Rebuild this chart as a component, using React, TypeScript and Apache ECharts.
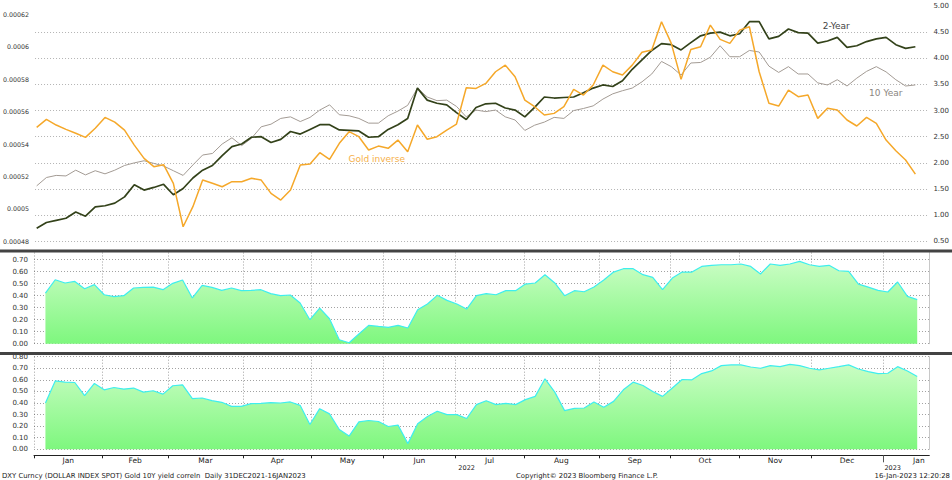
import React, { useEffect, useRef } from "react";
import * as echarts from "echarts";

// Business-day index: 0 = 31 Dec 2021, 1 = 3 Jan 2022, ... ; samples every 3rd business day from index 1
const SAMPLE_START = 1;
const SAMPLE_STEP = 3;

const monthNames = ["Jan", "Feb", "Mar", "Apr", "May", "Jun", "Jul", "Aug", "Sep", "Oct", "Nov", "Dec", "Jan"];
const monthFirstDay = [1, 22, 42, 65, 86, 108, 130, 151, 174, 196, 217, 239, 261];
const monthLastDay = [21, 41, 64, 85, 107, 129, 150, 173, 195, 216, 238, 260, 282];
const yearNames = ["2022", "2023"];

const goldInverse = [
  0.0005504, 0.0005553, 0.0005518, 0.0005491, 0.0005467, 0.0005442, 0.0005498, 0.0005565, 0.0005536, 0.0005487,
  0.0005394, 0.0005312, 0.0005261, 0.0005273, 0.0005158, 0.000489, 0.0005014, 0.0005178, 0.0005158, 0.0005137,
  0.0005168, 0.0005168, 0.0005189, 0.0005178, 0.0005096, 0.0005055, 0.0005117, 0.0005271, 0.0005277, 0.0005347,
  0.0005306, 0.0005405, 0.0005477, 0.0005446, 0.0005364, 0.0005388, 0.0005374, 0.0005425, 0.0005353, 0.0005518,
  0.000543, 0.0005446, 0.0005487, 0.0005524, 0.0005748, 0.0005744, 0.0005775, 0.0005847, 0.0005888, 0.0005816,
  0.0005672, 0.0005631, 0.000558, 0.000559, 0.0005631, 0.0005738, 0.0005703, 0.0005765, 0.0005888, 0.0005847,
  0.0005827, 0.0005888, 0.0005967, 0.0005981, 0.0006156, 0.0006022, 0.00058, 0.0005985, 0.0006001, 0.0006135,
  0.0006047, 0.0006022, 0.0006104, 0.0006125, 0.0005847, 0.0005652, 0.0005635, 0.0005734, 0.0005693, 0.0005703,
  0.0005559, 0.0005621, 0.0005611, 0.0005549, 0.0005512, 0.0005565, 0.0005528, 0.0005425, 0.0005359, 0.0005302,
  0.0005215,
];

const twoYear = [
  0.75, 0.86, 0.9, 0.94, 1.06, 0.98, 1.16, 1.18, 1.23, 1.35,
  1.58, 1.48, 1.53, 1.59, 1.39, 1.51, 1.71, 1.86, 1.95, 2.14,
  2.31, 2.36, 2.49, 2.5, 2.39, 2.45, 2.6, 2.55, 2.64, 2.73,
  2.73, 2.63, 2.62, 2.61, 2.49, 2.5, 2.64, 2.73, 2.85, 3.43,
  3.2, 3.14, 3.11, 2.96, 2.83, 3.06, 3.13, 3.14, 3.05, 3.01,
  2.88, 3.06, 3.26, 3.24, 3.25, 3.26, 3.34, 3.43, 3.49, 3.46,
  3.57, 3.79, 3.97, 4.15, 4.28, 4.26, 4.16, 4.3, 4.43, 4.48,
  4.5, 4.43, 4.47, 4.7, 4.7, 4.37, 4.42, 4.56, 4.49, 4.48,
  4.29, 4.33, 4.4, 4.21, 4.24, 4.32, 4.37, 4.4, 4.26, 4.19,
  4.22,
];

const tenYear = [
  1.56, 1.72, 1.76, 1.75, 1.86, 1.77, 1.85, 1.79, 1.86, 1.95,
  2.0, 2.04, 1.99, 1.94, 1.85, 1.76, 1.96, 2.15, 2.18, 2.36,
  2.48, 2.33, 2.47, 2.69, 2.74, 2.85, 2.88, 2.79, 2.87, 3.01,
  3.11, 2.92, 2.9, 2.85, 2.76, 2.76, 2.9, 2.99, 3.1, 3.43,
  3.26, 3.19, 3.2, 3.08, 2.88, 3.01, 2.98, 3.01, 2.88, 2.82,
  2.62, 2.72, 2.78, 2.87, 2.85, 3.0, 3.04, 3.09, 3.22, 3.32,
  3.38, 3.43, 3.55, 3.7, 3.94, 3.84, 3.68, 3.91, 3.92, 4.02,
  4.24, 4.03, 4.03, 4.15, 4.12, 3.85, 3.73, 3.84, 3.7, 3.7,
  3.53, 3.49, 3.59, 3.47, 3.62, 3.75, 3.84, 3.74, 3.59, 3.47,
  3.49,
];

const correlationA = [
  null, 0.422, 0.533, 0.506, 0.519, 0.458, 0.492, 0.408, 0.392, 0.4,
  0.464, 0.469, 0.472, 0.45, 0.503, 0.531, 0.381, 0.486, 0.469, 0.444,
  0.464, 0.442, 0.444, 0.45, 0.417, 0.4, 0.406, 0.339, 0.2, 0.297,
  0.208, 0.033, 0.008, 0.081, 0.153, 0.144, 0.136, 0.153, 0.131, 0.283,
  0.331, 0.403, 0.361, 0.331, 0.289, 0.4, 0.417, 0.408, 0.442, 0.442,
  0.497, 0.506, 0.575, 0.506, 0.4, 0.442, 0.433, 0.472, 0.531, 0.597,
  0.625, 0.625, 0.575, 0.553, 0.45, 0.547, 0.597, 0.597, 0.644, 0.653,
  0.658, 0.658, 0.664, 0.644, 0.581, 0.664, 0.653, 0.664, 0.686, 0.658,
  0.644, 0.653, 0.608, 0.603, 0.497, 0.472, 0.444, 0.431, 0.514, 0.394,
  0.367,
];

const correlationB = [
  null, 0.4, 0.591, 0.58, 0.577, 0.463, 0.569, 0.514, 0.534, 0.52,
  0.529, 0.494, 0.506, 0.477, 0.549, 0.557, 0.437, 0.443, 0.42, 0.406,
  0.371, 0.371, 0.394, 0.397, 0.403, 0.4, 0.409, 0.38, 0.214, 0.351,
  0.306, 0.171, 0.114, 0.237, 0.249, 0.24, 0.197, 0.209, 0.049, 0.22,
  0.283, 0.329, 0.3, 0.3, 0.266, 0.386, 0.42, 0.386, 0.397, 0.386,
  0.429, 0.457, 0.609, 0.494, 0.334, 0.354, 0.357, 0.409, 0.363, 0.414,
  0.514, 0.58, 0.551, 0.5, 0.457, 0.529, 0.603, 0.6, 0.654, 0.677,
  0.723, 0.729, 0.729, 0.711, 0.7, 0.723, 0.714, 0.734, 0.723, 0.7,
  0.686, 0.7, 0.714, 0.729, 0.694, 0.671, 0.654, 0.657, 0.714, 0.677,
  0.629,
];

const FONT = "DejaVu Sans";
const X_MIN = 0.5;
const X_MAX = 274.7;
const GOLD_SCALE = 1e5;

const dayIndex = (k: number) => SAMPLE_START + SAMPLE_STEP * k;
const toPairs = (arr: (number | null)[], scale = 1) =>
  arr.map((v, k) => [dayIndex(k), v === null ? null : v * scale]);

function buildOption() {
  const boundaries = monthFirstDay.map((d) => d - 0.5);
  const mids = monthFirstDay.map((d, i) => (d + monthLastDay[i]) / 2);
  const yearPos = [monthFirstDay[6] + 3, monthFirstDay[12] + 2.5];
  const nearest = (list: number[], v: number) => {
    let best = -1;
    let bd = 0.05;
    list.forEach((p, i) => {
      const d = Math.abs(p - v);
      if (d < bd) {
        bd = d;
        best = i;
      }
    });
    return best;
  };

  const gridDash = { color: "#b4b4b4", width: 1, type: [1, 2] as number[] };
  const panelDash = { color: "rgba(70,70,70,0.5)", width: 1, type: [1, 2] as number[] };
  const labelBase = { fontFamily: FONT, color: "#333", fontSize: 7 };

  const areaFill = new echarts.graphic.LinearGradient(0, 0, 0, 1, [
    { offset: 0, color: "#cafdc4" },
    { offset: 1, color: "#7ef77e" },
  ]);

  const seriesLabel = (text: string, color: string, coord: number[]) => ({
    silent: true,
    symbol: "circle",
    symbolSize: 0,
    itemStyle: { color: "transparent" },
    label: { show: true, position: "inside", formatter: text, color, fontSize: 9, fontFamily: FONT },
    data: [{ coord }],
  });

  const footerStyle = { fontSize: 6.9, fontFamily: FONT, fill: "#222", verticalAlign: "middle" };

  return {
    animation: false,
    backgroundColor: "#ffffff",
    textStyle: { fontFamily: FONT },
    grid: [
      { left: 34, right: 22.7, top: 6, bottom: 238.7 },
      { left: 34, right: 22.7, top: 252.5, bottom: 136.3 },
      { left: 34, right: 22.7, top: 356.7, bottom: 30.7 },
    ],
    xAxis: [
      { gridIndex: 0, type: "value", min: X_MIN, max: X_MAX, show: false },
      {
        gridIndex: 1, type: "value", min: X_MIN, max: X_MAX, z: 3,
        axisLine: { show: false },
        axisTick: { show: false, customValues: boundaries },
        axisLabel: { show: false },
        splitLine: { show: true, lineStyle: panelDash },
      },
      {
        gridIndex: 2, type: "value", min: X_MIN, max: X_MAX, z: 3, position: "bottom", offset: 6,
        axisLine: { show: true, onZero: false, lineStyle: { color: "#222", width: 1 } },
        axisTick: { show: true, customValues: boundaries, length: 3, lineStyle: { color: "#222" } },
        axisLabel: {
          ...labelBase, fontSize: 7.5, color: "#222", margin: 1,
          customValues: mids,
          formatter: (v: number) => {
            const j = nearest(mids, v);
            return j >= 0 ? monthNames[j] : "";
          },
        },
        splitLine: { show: true, lineStyle: panelDash },
      },
      {
        gridIndex: 2, type: "value", min: X_MIN, max: X_MAX, z: 3, position: "bottom", offset: 6,
        axisLine: { show: false, onZero: false },
        axisTick: { show: true, customValues: [boundaries[12]], length: 7, lineStyle: { color: "#555" } },
        axisLabel: {
          ...labelBase, fontSize: 6.5, color: "#222", margin: 9,
          customValues: yearPos,
          formatter: (v: number) => {
            const j = nearest(yearPos, v);
            return j >= 0 ? yearNames[j] : "";
          },
        },
        splitLine: { show: false },
      },
    ],
    yAxis: [
      {
        gridIndex: 0, type: "value", position: "left", min: 48, max: 62.53, interval: 2,
        axisLine: { show: false }, axisTick: { show: false }, splitLine: { show: false },
        axisLabel: { ...labelBase, fontSize: 6.3, margin: 6, showMaxLabel: false, formatter: (v: number) => String(v / GOLD_SCALE) },
      },
      {
        gridIndex: 0, type: "value", position: "right", min: 0.5, max: 5, interval: 0.5,
        axisLine: { show: false }, axisTick: { show: false },
        splitLine: { show: true, showMaxLine: false, lineStyle: gridDash },
        axisLabel: { ...labelBase, margin: 6, formatter: (v: number) => v.toFixed(2) },
      },
      {
        gridIndex: 1, type: "value", position: "left", min: 0, max: 0.76, interval: 0.1, z: 3,
        axisLine: { show: false }, axisTick: { show: false },
        splitLine: { show: true, showMaxLine: false, lineStyle: panelDash },
        axisLabel: { ...labelBase, margin: 6, showMaxLabel: false, formatter: (v: number) => v.toFixed(2) },
      },
      {
        gridIndex: 1, type: "value", position: "right", min: 0, max: 0.76,
        axisLine: { show: true, lineStyle: { color: "#c8c8c8" } },
        axisTick: { show: false }, axisLabel: { show: false }, splitLine: { show: false },
      },
      {
        gridIndex: 2, type: "value", position: "left", min: 0, max: 0.8, interval: 0.1, z: 3,
        axisLine: { show: false }, axisTick: { show: false },
        splitLine: { show: true, lineStyle: panelDash },
        axisLabel: { ...labelBase, margin: 6, formatter: (v: number) => v.toFixed(2) },
      },
      {
        gridIndex: 2, type: "value", position: "right", min: 0, max: 0.8,
        axisLine: { show: true, lineStyle: { color: "#c8c8c8" } },
        axisTick: { show: false }, axisLabel: { show: false }, splitLine: { show: false },
      },
    ],
    series: [
      {
        type: "line", name: "10 Year", xAxisIndex: 0, yAxisIndex: 1,
        data: toPairs(tenYear), symbol: "none", showSymbol: false,
        lineStyle: { color: "#a39b94", width: 1 },
        markPoint: seriesLabel("10 Year", "#8a8580", [261.9, 3.34]),
      },
      {
        type: "line", name: "2-Year", xAxisIndex: 0, yAxisIndex: 1,
        data: toPairs(twoYear), symbol: "none", showSymbol: false,
        lineStyle: { color: "#33421a", width: 1.7 },
        markPoint: seriesLabel("2-Year", "#444444", [246.7, 4.61]),
      },
      {
        type: "line", name: "Gold inverse", xAxisIndex: 0, yAxisIndex: 0,
        data: toPairs(goldInverse, GOLD_SCALE), symbol: "none", showSymbol: false,
        lineStyle: { color: "#f5a82a", width: 1.5 },
        markPoint: seriesLabel("Gold inverse", "#f6b04a", [105.5, 53.06]),
      },
      {
        type: "line", name: "Correlation 1", xAxisIndex: 1, yAxisIndex: 2,
        data: toPairs(correlationA), symbol: "none", showSymbol: false,
        lineStyle: { color: "#3eeeee", width: 1.2 },
        areaStyle: { color: areaFill, opacity: 1 },
      },
      {
        type: "line", name: "Correlation 2", xAxisIndex: 2, yAxisIndex: 4,
        data: toPairs(correlationB), symbol: "none", showSymbol: false,
        lineStyle: { color: "#3eeeee", width: 1.2 },
        areaStyle: { color: areaFill, opacity: 1 },
      },
    ],
    graphic: [
      { type: "rect", silent: true, z: 10, shape: { x: 0, y: 249.5, width: 952, height: 3 }, style: { fill: "#434343" } },
      { type: "rect", silent: true, z: 10, shape: { x: 0, y: 352, width: 952, height: 3 }, style: { fill: "#434343" } },
      {
        type: "text", silent: true, x: 2, y: 475.5,
        style: { ...footerStyle, text: "DXY Curncy (DOLLAR INDEX SPOT) Gold 10Y yield correln  Daily 31DEC2021-16JAN2023", align: "left" },
      },
      {
        type: "text", silent: true, x: 587, y: 475.5,
        style: { ...footerStyle, text: "Copyright\u00a9 2023 Bloomberg Finance L.P.", align: "center" },
      },
      {
        type: "text", silent: true, x: 950, y: 475.5,
        style: { ...footerStyle, text: "16-Jan-2023 12:20:28", align: "right" },
      },
    ],
  };
}

export default function App() {
  const ref = useRef<HTMLDivElement>(null);
  useEffect(() => {
    if (!ref.current) return;
    const chart = echarts.init(ref.current, null, { renderer: "svg" });
    chart.setOption(buildOption() as any);
    return () => chart.dispose();
  }, []);
  return (
    <div
      ref={ref}
      style={{ position: "absolute", left: 0, top: 0, width: 952, height: 480, background: "#fff" }}
    />
  );
}
